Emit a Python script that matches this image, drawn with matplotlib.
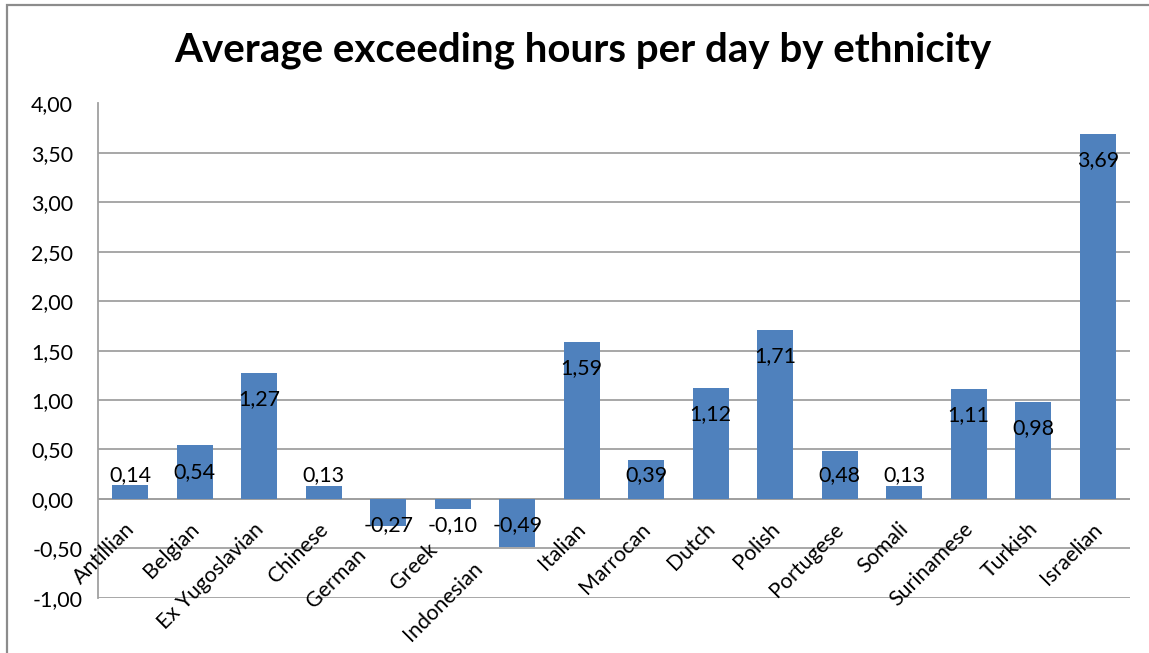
import matplotlib
matplotlib.use("Agg")
import matplotlib.pyplot as plt
from matplotlib.patches import Rectangle
from matplotlib.transforms import ScaledTranslation

categories = ["Antillian", "Belgian", "Ex Yugoslavian", "Chinese", "German", "Greek",
              "Indonesian", "Italian", "Marrocan", "Dutch", "Polish", "Portugese",
              "Somali", "Surinamese", "Turkish", "Israelian"]
values = [0.14, 0.54, 1.27, 0.13, -0.27, -0.10, -0.49, 1.59, 0.39, 1.12, 1.71,
          0.48, 0.13, 1.11, 0.98, 3.69]
y_ticks = [-1.0, -0.5, 0.0, 0.5, 1.0, 1.5, 2.0, 2.5, 3.0, 3.5, 4.0]
title = "Average exceeding hours per day by ethnicity"

FONT = ["Lato", "DejaVu Sans"]
BAR = "#4F81BD"
GRID = "#A0A0A0"
FS = 15.4
plt.rcParams["font.family"] = FONT

# extra slide (px, along the label's diagonal) for labels under negative bars
label_slide = {"German": 26, "Greek": 20, "Indonesian": 39}


def comma(v):
    return f"{v:.2f}".replace(".", ",")


W, H, DPI = 1149, 653, 100
PT = 72 / DPI  # points per pixel
fig = plt.figure(figsize=(W / DPI, H / DPI), dpi=DPI)
fig.patch.set_facecolor("white")

# outer chart border (left and top edges visible)
fig.patches.append(Rectangle((7 / W, -0.1), 1.2, 1.1 - 5 / H, transform=fig.transFigure,
                             fill=False, edgecolor="#8C8C8C", linewidth=1.6))

ax = fig.add_axes([98 / W, 1 - 597.7 / H, (1130 - 98) / W, (597.7 - 103.5) / H])
x = list(range(len(categories)))
ax.bar(x, values, width=0.556, color=BAR, zorder=3)

ax.set_xlim(-0.5, len(categories) - 0.5)
ax.set_ylim(-1.0, 4.0)
ax.set_yticks(y_ticks)
ax.set_yticklabels([comma(v) for v in y_ticks], fontsize=FS, color="#000000")
ax.tick_params(axis="y", length=0, pad=15 * PT)
ax.set_xticks([])
ax.grid(axis="y", color=GRID, linewidth=1.3, zorder=0)
for side in ["top", "right", "bottom"]:
    ax.spines[side].set_visible(False)
ax.spines["left"].set_color(GRID)
ax.spines["left"].set_linewidth(1.3)
ax.axhline(0, color=GRID, linewidth=1.3, zorder=2)

# positive labels carry a trailing pad the width of a minus sign
for lab, v in zip(ax.get_yticklabels(), y_ticks):
    if v >= 0:
        lab.set_transform(lab.get_transform() + ScaledTranslation(-10 / DPI, 0, fig.dpi_scale_trans))

# category labels hang from the zero line
for i, name in enumerate(categories):
    s = label_slide.get(name, 0)
    ax.annotate(name, xy=(i, 0), xytext=((-6 - s) * PT, (-20 - s) * PT),
                textcoords="offset points", rotation=45, rotation_mode="anchor",
                ha="right", va="top", fontsize=FS, color="#000000")

# value labels at the inside end of each bar, kept clear of the zero line
for i, v in enumerate(values):
    if v >= 0:
        ly = max(v - 0.265, 0.24)
    else:
        ly = min(v + 0.265, -0.265)
    ax.text(i, ly, comma(v), ha="center", va="center", fontsize=FS,
            color="#000000", zorder=4)

fig.text(583 / W, 1 - 50 / H, title, ha="center", va="center",
         fontsize=29, fontweight="bold", color="#000000")

fig.savefig("out.png", dpi=DPI)
